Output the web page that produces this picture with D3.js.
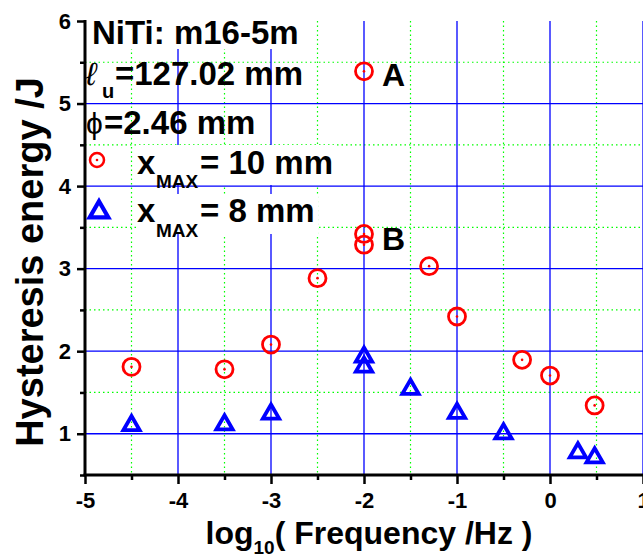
<!DOCTYPE html>
<html>
<head>
<meta charset="utf-8">
<script src="https://cdn.jsdelivr.net/npm/d3@7/dist/d3.min.js"></script>
<style>
  body { margin: 0; background: #fff; }
  svg { display: block; font-family: "Liberation Sans", Arial, sans-serif; }
</style>
</head>
<body>
<div id="chart"></div>
<script>
// data
const xTicks = [-5, -4, -3, -2, -1, 0, 1];
const xMinor = [-4.5, -3.5, -2.5, -1.5, -0.5, 0.5];
const yTicks = [1, 2, 3, 4, 5, 6];
const yMinor = [0.5, 1.5, 2.5, 3.5, 4.5, 5.5];

// x_MAX = 10 mm (red circles)
const circX = [-4.5, -3.5, -3, -2.5, -2, -2, -2, -1.3, -1, -0.3, 0, 0.48];
const circY = [1.81, 1.78, 2.08, 2.885, 5.39, 3.42, 3.29, 3.03, 2.42, 1.895, 1.705, 1.343];

// x_MAX = 8 mm (blue triangles)
const triX = [-4.5, -3.5, -3, -2, -2, -1.5, -1, -0.5, 0.3, 0.48];
const triY = [1.10, 1.11, 1.24, 1.93, 1.81, 1.54, 1.25, 1.00, 0.77, 0.71];

const W = 643, H = 559;
const margin = { top: 21, right: 0, bottom: 84, left: 85 };

const svg = d3.select('#chart').append('svg')
  .attr('width', W)
  .attr('height', H);

const x = d3.scaleLinear().domain([-5, 1]).range([margin.left, 643]);
const y = d3.scaleLinear().domain([0.5, 6]).range([H - margin.bottom, margin.top]);

const plotTop = y(6), plotBottom = y(0.5);

// minor grid (green dotted)
const grid = svg.append('g');
grid.selectAll('.vmin').data(xMinor).enter().append('line')
  .attr('x1', d => x(d)).attr('x2', d => x(d))
  .attr('y1', plotTop).attr('y2', plotBottom)
  .attr('stroke', '#00ff00').attr('stroke-width', 1.2)
  .attr('stroke-dasharray', '1.5,3');
grid.selectAll('.hmin').data(yMinor.filter(d => d > 0.5)).enter().append('line')
  .attr('x1', x(-5)).attr('x2', W)
  .attr('y1', d => y(d)).attr('y2', d => y(d))
  .attr('stroke', '#00ff00').attr('stroke-width', 1.2)
  .attr('stroke-dasharray', '1.5,3');

// major grid (blue)
grid.selectAll('.vmaj').data(xTicks.filter(d => d > -5)).enter().append('line')
  .attr('x1', d => x(d)).attr('x2', d => x(d))
  .attr('y1', plotTop).attr('y2', plotBottom)
  .attr('stroke', '#0000ff').attr('stroke-width', 1.3);
grid.selectAll('.hmaj').data(yTicks.filter(d => d < 6)).enter().append('line')
  .attr('x1', x(-5)).attr('x2', W)
  .attr('y1', d => y(d)).attr('y2', d => y(d))
  .attr('stroke', '#0000ff').attr('stroke-width', 1.3);

// axes
const fmt = d => String(d);
const xAxis = d3.axisBottom(x).tickValues(xTicks).tickSize(9).tickPadding(8).tickFormat(fmt);
const xAxisMinor = d3.axisBottom(x).tickValues(xMinor).tickSize(5).tickFormat('');
const yAxis = d3.axisLeft(y).tickValues(yTicks).tickSize(8).tickPadding(6).tickFormat(fmt);
const yAxisMinor = d3.axisLeft(y).tickValues(yMinor).tickSize(5).tickFormat('');

function styleAxis(g) {
  g.select('.domain').remove();
  g.selectAll('line').attr('stroke', '#000').attr('stroke-width', 2.5);
  g.selectAll('text')
    .attr('fill', '#000')
    .style('font-size', '22px')
    .style('font-weight', 'bold')
    .style('font-family', '"Liberation Sans", Arial, sans-serif');
}

svg.append('g').attr('transform', `translate(0,${plotBottom})`).call(xAxisMinor).call(styleAxis);
svg.append('g').attr('transform', `translate(0,${plotBottom})`).call(xAxis).call(styleAxis);
svg.append('g').attr('transform', `translate(${x(-5)},0)`).call(yAxisMinor).call(styleAxis);
svg.append('g').attr('transform', `translate(${x(-5)},0)`).call(yAxis).call(styleAxis);

// axis lines
svg.append('line')
  .attr('x1', x(-5) - 1.5).attr('x2', W)
  .attr('y1', plotBottom).attr('y2', plotBottom)
  .attr('stroke', '#000').attr('stroke-width', 3);
svg.append('line')
  .attr('x1', x(-5)).attr('x2', x(-5))
  .attr('y1', plotTop - 1).attr('y2', plotBottom)
  .attr('stroke', '#000').attr('stroke-width', 3);

// annotation text (some of it on white boxes, like in the original)
const ann = svg.append('g').attr('font-weight', 'bold').attr('fill', '#000');

const head = ann.append('g');
const headBox = head.append('rect').attr('fill', '#fff');
const t1 = head.append('text').attr('x', 92).attr('y', 44)
  .style('font-size', '33px').text('NiTi: m16-5m');
const b1 = t1.node().getBBox();
headBox.attr('x', b1.x - 2).attr('y', b1.y + 2)
  .attr('width', b1.width + 4).attr('height', b1.height - 4);

ann.append('text').attr('x', 86).attr('y', 85)
  .style('font-size', '32px').style('font-weight', 'normal').style('font-style', 'italic')
  .text('\u2113');
ann.append('text').attr('x', 102).attr('y', 98)
  .style('font-size', '20px').text('u');
ann.append('text').attr('x', 115).attr('y', 85)
  .style('font-size', '33px').text('=127.02 mm');

ann.append('text').attr('x', 86).attr('y', 134)
  .style('font-size', '30px').style('font-weight', 'normal')
  .text('\u03D5');
ann.append('text').attr('x', 104).attr('y', 134)
  .style('font-size', '33px').text('=2.46 mm');

// legend rows
const leg1 = ann.append('g');
leg1.append('rect').attr('x', 136).attr('y', 145).attr('width', 199).attr('height', 40).attr('fill', '#fff');
leg1.append('text').attr('x', 137).attr('y', 174).style('font-size', '33px').text('x');
leg1.append('text').attr('x', 156).attr('y', 188).style('font-size', '19px').text('MAX');
leg1.append('text').attr('x', 200).attr('y', 174).style('font-size', '33px').text('= 10 mm');

const leg2 = ann.append('g');
leg2.append('rect').attr('x', 136).attr('y', 194).attr('width', 182).attr('height', 40).attr('fill', '#fff');
leg2.append('text').attr('x', 137).attr('y', 222).style('font-size', '33px').text('x');
leg2.append('text').attr('x', 156).attr('y', 237).style('font-size', '19px').text('MAX');
leg2.append('text').attr('x', 200).attr('y', 222).style('font-size', '33px').text('= 8 mm');

// legend symbols
svg.append('circle').attr('cx', 97).attr('cy', 160).attr('r', 7)
  .attr('fill', 'none').attr('stroke', '#ff0000').attr('stroke-width', 2.5);
svg.append('circle').attr('cx', 97).attr('cy', 160).attr('r', 1.3).attr('fill', '#ff0000');
svg.append('path')
  .attr('d', d3.symbol().type(d3.symbolTriangle).size(150)())
  .attr('transform', 'translate(99,212)')
  .attr('fill', 'none').attr('stroke', '#0000ff').attr('stroke-width', 4.2);

// A / B labels
ann.append('text').attr('x', 382).attr('y', 86).style('font-size', '32px').text('A');
ann.append('text').attr('x', 382).attr('y', 250).style('font-size', '32px').text('B');

// data
const circles = circX.map((d, i) => ({ x: d, y: circY[i] }));
const tris = triX.map((d, i) => ({ x: d, y: triY[i] }));

svg.append('g').selectAll('circle')
  .data(circles).enter().append('circle')
  .attr('cx', d => x(d.x)).attr('cy', d => y(d.y)).attr('r', 8.5)
  .attr('fill', 'none').attr('stroke', '#ff0000').attr('stroke-width', 2.8);
svg.append('g').selectAll('circle')
  .data(circles).enter().append('circle')
  .attr('cx', d => x(d.x)).attr('cy', d => y(d.y)).attr('r', 1.3)
  .attr('fill', '#ff0000');

svg.append('g').selectAll('path')
  .data(tris).enter().append('path')
  .attr('d', d3.symbol().type(d3.symbolTriangle).size(115)())
  .attr('transform', d => `translate(${x(d.x)},${y(d.y)})`)
  .attr('fill', 'none').attr('stroke', '#0000ff').attr('stroke-width', 3.8);

// axis titles
const xl = svg.append('text')
  .attr('x', 369).attr('y', 544)
  .attr('text-anchor', 'middle')
  .style('font-size', '32px').style('font-weight', 'bold');
xl.append('tspan').text('log');
xl.append('tspan').attr('dy', 10).style('font-size', '19px').text('10');
xl.append('tspan').attr('dy', -10).text('( Frequency /Hz )');

svg.append('text')
  .attr('transform', 'translate(43,262) rotate(-90)')
  .attr('text-anchor', 'middle')
  .style('font-size', '38px').style('font-weight', 'bold')
  .text('Hysteresis energy /J');
</script>
</body>
</html>
